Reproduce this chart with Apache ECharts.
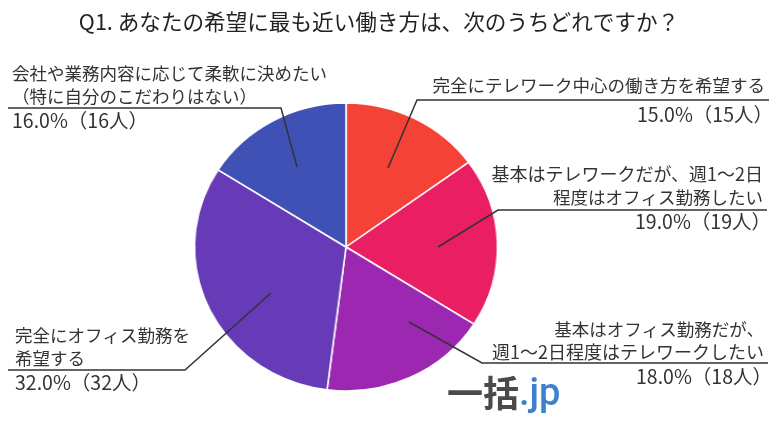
<!DOCTYPE html>
<html>
<head>
<meta charset="utf-8">
<style>
  html, body { margin: 0; background: #fff; }
  #wrap { position: relative; width: 780px; height: 430px; overflow: hidden; }
  #pie, #labels { position: absolute; left: 0; top: 0; width: 780px; height: 430px; }
  /* the pie in the original is a bit wider than tall */
  #pie { transform-origin: 346px 247px; transform: scaleX(1.052); }
</style>
<script src="https://cdn.jsdelivr.net/npm/echarts@6/dist/echarts.min.js"></script>
</head>
<body>
<div id="wrap">
  <div id="pie"></div>
  <div id="labels"></div>
</div>
<script>
const titleText = 'Q1. あなたの希望に最も近い働き方は、次のうちどれですか？';
const categories = [
  '完全にテレワーク中心の働き方を希望する',
  '基本はテレワークだが、週1～2日\n程度はオフィス勤務したい',
  '基本はオフィス勤務だが、\n週1～2日程度はテレワークしたい',
  '完全にオフィス勤務を\n希望する',
  '会社や業務内容に応じて柔軟に決めたい\n（特に自分のこだわりはない）'
];
const percents = [15.0, 19.0, 18.0, 32.0, 16.0];
const counts = [15, 19, 18, 32, 16];
const colors = ['#F44336', '#E91E63', '#9C27B0', '#673AB7', '#3F51B5'];

const font = '"Noto Sans CJK JP"';
const center = [346, 247];

// where each label sits and how its leader line runs: inner end, elbow, outer end
const placement = [
  { x: 773, y: 74, align: 'right', pct: 'pw', line: [[388, 168], [417, 100], [769, 100]] },
  { x: 771, y: 163, align: 'right', pct: 'p', line: [[438, 247], [498, 210], [767, 210]] },
  { x: 772, y: 318, align: 'right', pct: 'p', line: [[409, 322], [482, 363], [768, 363]] },
  { x: 15, y: 324, align: 'left', pct: 'p', line: [[271, 293], [185, 370], [8, 370]] },
  { x: 12, y: 62, align: 'left', pct: 'p', line: [[297, 167], [281, 108], [8, 108]] }
];

const pieData = categories.map((name, i) => ({
  name: name,
  value: percents[i],
  itemStyle: { color: colors[i] }
}));

const pieChart = echarts.init(document.getElementById('pie'), null, { renderer: 'canvas' });
pieChart.setOption({
  animation: false,
  series: [{
    type: 'pie',
    center: center,
    radius: 144,
    startAngle: 90,
    clockwise: true,
    label: { show: false },
    labelLine: { show: false },
    itemStyle: { borderColor: '#fff', borderWidth: 1.5 },
    data: pieData
  }]
});

const labelChart = echarts.init(document.getElementById('labels'), null, { renderer: 'canvas' });
labelChart.setOption({
  animation: false,
  title: {
    text: titleText,
    left: 374,
    top: 6,
    textAlign: 'center',
    textStyle: { fontFamily: font, fontSize: 21.6, fontWeight: 'normal', color: '#222' }
  },
  graphic: [
    { type: 'text', left: 447, top: 375, style: { text: '一括', fontFamily: font, fontSize: 36, fontWeight: 'bold', fill: '#4A4A4A' } },
    { type: 'text', left: 519, top: 376, style: { text: '.jp', fontFamily: 'Roboto', fontSize: 38, fontWeight: 500, fill: '#3F7FD0' } }
  ],
  series: [{
    type: 'pie',
    center: center,
    radius: 144,
    startAngle: 90,
    clockwise: true,
    silent: true,
    itemStyle: { color: 'transparent' },
    data: categories.map((name, i) => ({ name: name, value: percents[i] })),
    label: {
      show: true,
      position: 'outer',
      overflow: 'none',
      fontFamily: font,
      fontSize: 17.5,
      color: '#333',
      formatter: (p) => {
        const i = p.dataIndex;
        const right = placement[i].align === 'right';
        const names = categories[i].split('\n').map(s => {
          // the right hand names stop short of the percent line's closing bracket
          const style = !right ? 'n' : s.includes('～') ? 'nd' : 'nr';
          return '{' + style + '|' + s + '}';
        }).join('\n');
        return names + '\n{' + placement[i].pct + '|' + percents[i].toFixed(1) + '%（' + counts[i] + '人）}';
      },
      rich: {
        n: { fontFamily: font, fontSize: 17.5, lineHeight: 23, color: '#333' },
        nr: { fontFamily: font, fontSize: 17.5, lineHeight: 23, color: '#333', padding: [0, 8, 0, 0] },
        nd: { fontFamily: font, fontSize: 18, lineHeight: 23, color: '#333', padding: [0, 8, 0, 0] },
        p: { fontFamily: font, fontSize: 19.5, lineHeight: 26, color: '#333' },
        pw: { fontFamily: font, fontSize: 19.5, lineHeight: 36, color: '#333' }
      }
    },
    labelLine: { show: true, lineStyle: { color: '#333', width: 1.5 } },
    labelLayout: (params) => {
      const pl = placement[params.dataIndex];
      return {
        x: pl.x,
        y: pl.y,
        align: pl.align,
        verticalAlign: 'top',
        labelLinePoints: pl.line
      };
    }
  }]
});
</script>
</body>
</html>
